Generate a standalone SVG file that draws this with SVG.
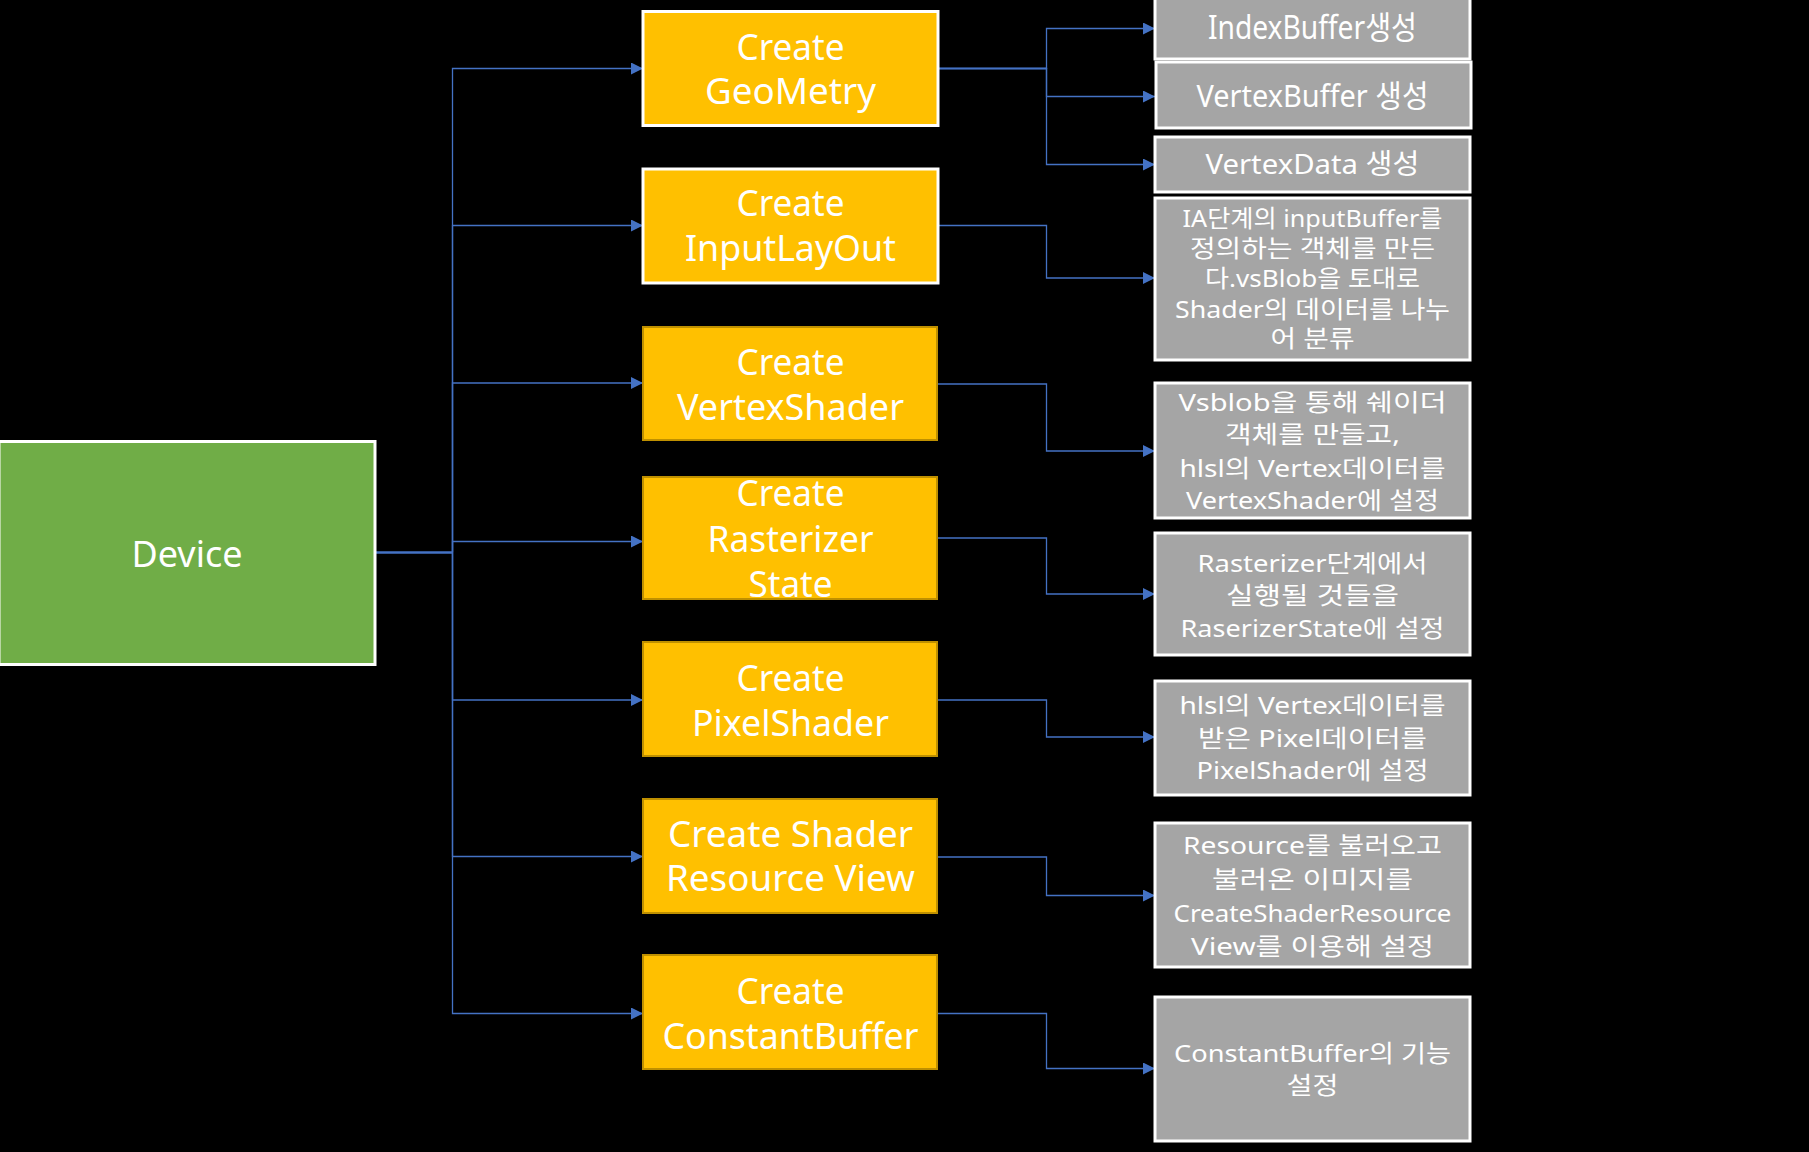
<svg xmlns="http://www.w3.org/2000/svg" width="1809" height="1152" viewBox="0 0 1809 1152">
<defs>
<style>
.bg{fill:#000}
.dev{fill:#70AD47;stroke:#FFFFFF;stroke-width:3}
.ow{fill:#FFC000;stroke:#FFFFFF;stroke-width:3}
.od{fill:#FFC000;stroke:#BF9000;stroke-width:2}
.gr{fill:#A5A5A5;stroke:#FFFFFF;stroke-width:3}
text{font-family:"Noto Sans","Noto Sans CJK KR",sans-serif;fill:#FFFFFF;text-anchor:middle}
.t37{font-size:37px}
.t24{font-size:24px}
.conn{fill:none;stroke:#4472C4;stroke-width:1.3}
.thick{stroke-width:2.4}
</style>
<marker id="ah" markerUnits="userSpaceOnUse" markerWidth="12" markerHeight="12" refX="12" refY="6" orient="auto">
<path d="M0,0 L12,6 L0,12 Z" fill="#4472C4"/>
</marker>
</defs>
<rect class="bg" x="0" y="0" width="1809" height="1152"/>

<g id="connectors">
<path class="conn thick" d="M375,552.5 H452.5"/>
<path class="conn" d="M452.5,552.5 V68.5 H643" marker-end="url(#ah)"/>
<path class="conn" d="M452.5,552.5 V225.5 H643" marker-end="url(#ah)"/>
<path class="conn" d="M452.5,552.5 V383 H643" marker-end="url(#ah)"/>
<path class="conn" d="M452.5,552.5 V541.5 H643" marker-end="url(#ah)"/>
<path class="conn" d="M452.5,552.5 V700 H643" marker-end="url(#ah)"/>
<path class="conn" d="M452.5,552.5 V856.5 H643" marker-end="url(#ah)"/>
<path class="conn" d="M452.5,552.5 V1013.5 H643" marker-end="url(#ah)"/>
<path class="conn" d="M938,68.5 H1046.5 V28.5 H1155" marker-end="url(#ah)"/>
<path class="conn" d="M938,68.5 H1046.5 V96.5 H1155" marker-end="url(#ah)"/>
<path class="conn" d="M938,68.5 H1046.5 V164.5 H1155" marker-end="url(#ah)"/>
<path class="conn" d="M938,225.5 H1046.5 V278 H1155" marker-end="url(#ah)"/>
<path class="conn" d="M938,384 H1046.5 V451 H1155" marker-end="url(#ah)"/>
<path class="conn" d="M938,538 H1046.5 V594 H1155" marker-end="url(#ah)"/>
<path class="conn" d="M938,700 H1046.5 V737 H1155" marker-end="url(#ah)"/>
<path class="conn" d="M938,857 H1046.5 V895.5 H1155" marker-end="url(#ah)"/>
<path class="conn" d="M938,1013.5 H1046.5 V1068.5 H1155" marker-end="url(#ah)"/>
</g>

<g id="device">
<rect class="dev" x="-1" y="441.5" width="376" height="223"/>
<text class="t37" x="187" y="567" textLength="111" lengthAdjust="spacingAndGlyphs">Device</text>
</g>

<g id="create-geometry">
<rect class="ow" x="643" y="11.5" width="295" height="114"/>
<text class="t37" x="790.5" y="60" textLength="108" lengthAdjust="spacingAndGlyphs">Create</text>
<text class="t37" x="790.5" y="104" textLength="171" lengthAdjust="spacingAndGlyphs">GeoMetry</text>
</g>

<g id="create-inputlayout">
<rect class="ow" x="643" y="169" width="295" height="114"/>
<text class="t37" x="790.5" y="216" textLength="108" lengthAdjust="spacingAndGlyphs">Create</text>
<text class="t37" x="790.5" y="261" textLength="211" lengthAdjust="spacingAndGlyphs">InputLayOut</text>
</g>

<g id="create-vertexshader">
<rect class="od" x="643" y="327" width="294" height="113"/>
<text class="t37" x="790.5" y="374.5" textLength="108" lengthAdjust="spacingAndGlyphs">Create</text>
<text class="t37" x="790.5" y="420" textLength="227" lengthAdjust="spacingAndGlyphs">VertexShader</text>
</g>

<g id="create-rasterizer-state">
<rect class="od" x="643" y="477" width="294" height="122"/>
<text class="t37" x="790.5" y="506" textLength="108" lengthAdjust="spacingAndGlyphs">Create</text>
<text class="t37" x="790.5" y="552" textLength="166" lengthAdjust="spacingAndGlyphs">Rasterizer</text>
<text class="t37" x="790.5" y="597" textLength="84" lengthAdjust="spacingAndGlyphs">State</text>
</g>

<g id="create-pixelshader">
<rect class="od" x="643" y="642" width="294" height="114"/>
<text class="t37" x="790.5" y="691" textLength="108" lengthAdjust="spacingAndGlyphs">Create</text>
<text class="t37" x="790.5" y="736" textLength="197" lengthAdjust="spacingAndGlyphs">PixelShader</text>
</g>

<g id="create-shader-resource-view">
<rect class="od" x="643" y="799" width="294" height="114"/>
<text class="t37" x="790.5" y="846.5" textLength="245" lengthAdjust="spacingAndGlyphs">Create Shader</text>
<text class="t37" x="790.5" y="891" textLength="249" lengthAdjust="spacingAndGlyphs">Resource View</text>
</g>

<g id="create-constantbuffer">
<rect class="od" x="643" y="955" width="294" height="114"/>
<text class="t37" x="790.5" y="1003.5" textLength="108" lengthAdjust="spacingAndGlyphs">Create</text>
<text class="t37" x="790.5" y="1049" textLength="256" lengthAdjust="spacingAndGlyphs">ConstantBuffer</text>
</g>

<g id="indexbuffer">
<rect class="gr" x="1155" y="-8" width="315" height="67"/>
<text x="1312.5" y="39" font-size="32" textLength="209" lengthAdjust="spacingAndGlyphs">IndexBuffer생성</text>
</g>

<g id="vertexbuffer">
<rect class="gr" x="1156" y="62" width="315" height="66"/>
<text x="1312.5" y="107" font-size="31" textLength="232" lengthAdjust="spacingAndGlyphs">VertexBuffer 생성</text>
</g>

<g id="vertexdata">
<rect class="gr" x="1155" y="137" width="315" height="55"/>
<text x="1312.5" y="174" font-size="28" textLength="214" lengthAdjust="spacingAndGlyphs">VertexData 생성</text>
</g>

<g id="inputlayout-desc">
<rect class="gr" x="1155" y="198" width="315" height="162"/>
<text class="t24" x="1312.5" y="227" textLength="260" lengthAdjust="spacingAndGlyphs">IA단계의 inputBuffer를</text>
<text class="t24" x="1312.5" y="257" textLength="245" lengthAdjust="spacingAndGlyphs">정의하는 객체를 만든</text>
<text class="t24" x="1312.5" y="287" textLength="215" lengthAdjust="spacingAndGlyphs">다.vsBlob을 토대로</text>
<text class="t24" x="1312.5" y="318" textLength="275" lengthAdjust="spacingAndGlyphs">Shader의 데이터를 나누</text>
<text class="t24" x="1312.5" y="347" textLength="84" lengthAdjust="spacingAndGlyphs">어 분류</text>
</g>

<g id="vertexshader-desc">
<rect class="gr" x="1155" y="383" width="315" height="135"/>
<text class="t24" x="1312.5" y="411" textLength="268" lengthAdjust="spacingAndGlyphs">Vsblob을 통해 쉐이더</text>
<text class="t24" x="1312.5" y="443" textLength="175" lengthAdjust="spacingAndGlyphs">객체를 만들고,</text>
<text class="t24" x="1312.5" y="477" textLength="266" lengthAdjust="spacingAndGlyphs">hlsl의 Vertex데이터를</text>
<text class="t24" x="1312.5" y="509" textLength="253" lengthAdjust="spacingAndGlyphs">VertexShader에 설정</text>
</g>

<g id="rasterizer-desc">
<rect class="gr" x="1155" y="533" width="315" height="122"/>
<text class="t24" x="1312.5" y="572" textLength="230" lengthAdjust="spacingAndGlyphs">Rasterizer단계에서</text>
<text class="t24" x="1312.5" y="604" textLength="173" lengthAdjust="spacingAndGlyphs">실행될 것들을</text>
<text class="t24" x="1312.5" y="637" textLength="264" lengthAdjust="spacingAndGlyphs">RaserizerState에 설정</text>
</g>

<g id="pixelshader-desc">
<rect class="gr" x="1155" y="681" width="315" height="114"/>
<text class="t24" x="1312.5" y="714" textLength="266" lengthAdjust="spacingAndGlyphs">hlsl의 Vertex데이터를</text>
<text class="t24" x="1312.5" y="747" textLength="229" lengthAdjust="spacingAndGlyphs">받은 Pixel데이터를</text>
<text class="t24" x="1312.5" y="779" textLength="232" lengthAdjust="spacingAndGlyphs">PixelShader에 설정</text>
</g>

<g id="resource-desc">
<rect class="gr" x="1155" y="823" width="315" height="144"/>
<text class="t24" x="1312.5" y="854" textLength="259" lengthAdjust="spacingAndGlyphs">Resource를 불러오고</text>
<text class="t24" x="1312.5" y="888" textLength="201" lengthAdjust="spacingAndGlyphs">불러온 이미지를</text>
<text class="t24" x="1312.5" y="922" textLength="278" lengthAdjust="spacingAndGlyphs">CreateShaderResource</text>
<text class="t24" x="1312.5" y="955" textLength="243" lengthAdjust="spacingAndGlyphs">View를 이용해 설정</text>
</g>

<g id="constantbuffer-desc">
<rect class="gr" x="1155" y="997" width="315" height="144"/>
<text class="t24" x="1312.5" y="1062" textLength="277" lengthAdjust="spacingAndGlyphs">ConstantBuffer의 기능</text>
<text class="t24" x="1312.5" y="1094" textLength="52" lengthAdjust="spacingAndGlyphs">설정</text>
</g>
</svg>
